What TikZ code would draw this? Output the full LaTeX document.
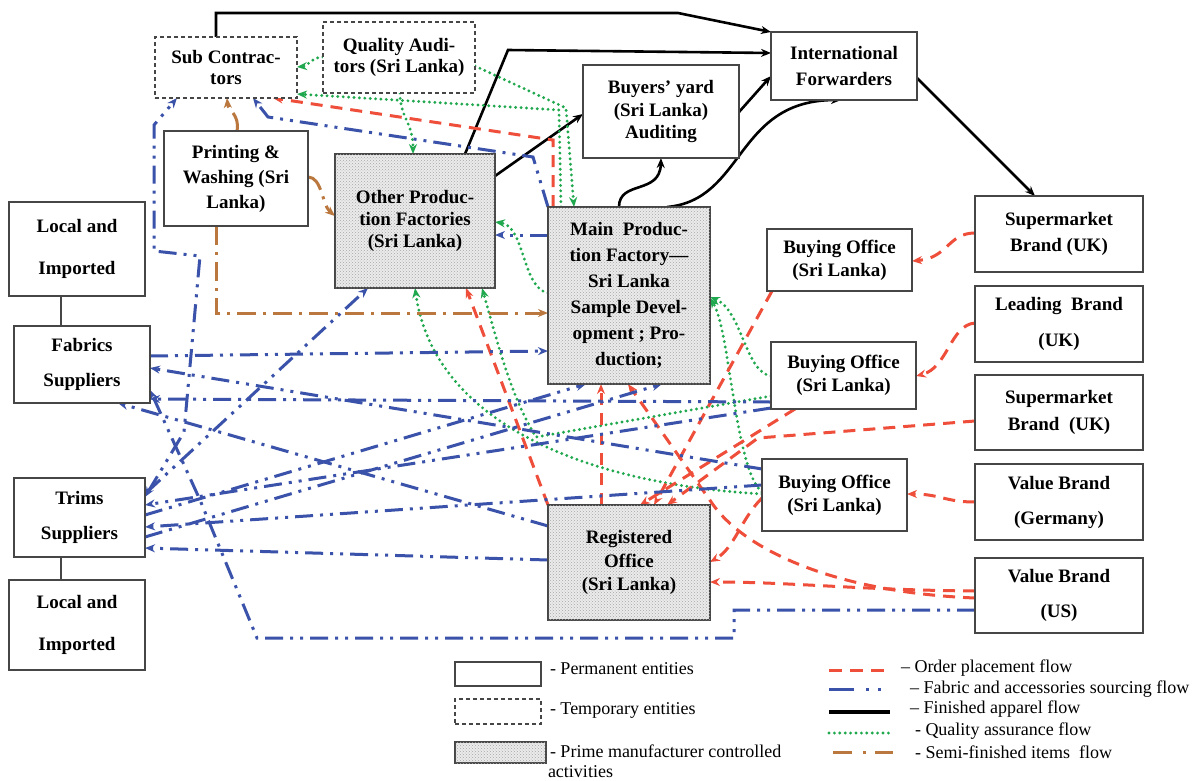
\documentclass[tikz,border=0pt]{standalone}
\usepackage{fontspec}
\setmainfont{Liberation Serif}
\usetikzlibrary{arrows.meta,patterns,calc}
\pgfdeclarelayer{bg}
\pgfsetlayers{bg,main}

\definecolor{ordred}{RGB}{238,78,58}
\definecolor{srcblue}{RGB}{58,82,170}
\definecolor{qagreen}{RGB}{32,168,78}
\definecolor{semibrown}{RGB}{186,120,62}
\definecolor{boxline}{RGB}{70,70,70}

\newcommand\nodetxt[1]{\bfseries\fontsize{19}{#1}\selectfont}
\newcommand\legtxt{\fontsize{18}{21}\selectfont}

\begin{document}
\begin{tikzpicture}[x=1pt,y=-1pt,
  every node/.style={inner sep=0pt, outer sep=0pt},
  entity/.style={draw=boxline, line width=1.5pt, align=center},
  permbox/.style={entity, fill=white},
  tempbox/.style={entity, dash pattern=on 4pt off 3pt, fill=white},
  primebox/.style={entity, fill=gray!16, postaction={pattern=crosshatch dots, pattern color=gray!70}},
  flowtip/.style={-{Stealth[length=10pt,width=8pt]}},
  bothtips/.style={{Stealth[length=10pt,width=8pt]}-{Stealth[length=10pt,width=8pt]}},
  redflow/.style={draw=ordred, line width=3pt, dash pattern=on 12pt off 8pt},
  blueflow/.style={draw=srcblue, line width=3pt, dash pattern=on 18pt off 7pt on 3pt off 7pt on 3pt off 7pt},
  blackflow/.style={draw=black, line width=2.6pt},
  greenflow/.style={draw=qagreen, line width=3.2pt, line cap=round, dash pattern=on 0pt off 5.4pt},
  brownflow/.style={draw=semibrown, line width=3pt, dash pattern=on 19pt off 7pt on 3pt off 7pt},
]
\useasboundingbox (0,0) rectangle (1200,780);

% ---------- entities ----------
\node[tempbox, minimum width=142pt, minimum height=61pt, font={\nodetxt{21}}] (subc) at (226,67.5) {Sub Contrac-\\tors};
\node[tempbox, minimum width=152pt, minimum height=71pt, font={\nodetxt{21}}] (qa) at (399,57.5) {Quality Audi-\\tors (Sri Lanka)};
\node[permbox, minimum width=146pt, minimum height=68pt, font={\nodetxt{26}}] (intl) at (844,66) {International\\Forwarders};
\node[permbox, minimum width=156pt, minimum height=93pt, font={\nodetxt{23}}] (yard) at (661,111.5) {Buyers' yard\\(Sri Lanka)\\Auditing};
\node[permbox, minimum width=144pt, minimum height=95pt, font={\nodetxt{25}}] (print) at (236,178.5) {Printing \&\\Washing (Sri\\Lanka)};
\node[primebox, minimum width=160pt, minimum height=134pt, font={\nodetxt{22}}] (other) at (415,221) {Other Produc-\\tion Factories\\(Sri Lanka)};
\node[primebox, minimum width=162pt, minimum height=177pt, font={\nodetxt{26}}] (main) at (629,295.5) {Main~~Produc-\\tion Factory—\\Sri Lanka\\Sample Devel-\\opment ; Pro-\\duction;};
\node[permbox, minimum width=136pt, minimum height=94pt, font={\nodetxt{42}}] (loc1) at (77,249) {Local and\\Imported};
\node[permbox, minimum width=136pt, minimum height=77pt, font={\nodetxt{35}}] (fab) at (82,364.5) {Fabrics\\Suppliers};
\node[permbox, minimum width=131pt, minimum height=79pt, font={\nodetxt{35}}] (trims) at (79.5,517.5) {Trims\\Suppliers};
\node[permbox, minimum width=136pt, minimum height=90pt, font={\nodetxt{42}}] (loc2) at (77,625) {Local and\\Imported};
\node[primebox, minimum width=162pt, minimum height=115pt, font={\nodetxt{23.5}}] (reg) at (629,562.5) {Registered\\Office\\(Sri Lanka)};
\node[permbox, minimum width=145pt, minimum height=62pt, font={\nodetxt{23}}] (bo1) at (839.5,260) {Buying Office\\(Sri Lanka)};
\node[permbox, minimum width=145pt, minimum height=67pt, font={\nodetxt{23}}] (bo2) at (843.5,375.5) {Buying Office\\(Sri Lanka)};
\node[permbox, minimum width=145pt, minimum height=72pt, font={\nodetxt{23}}] (bo3) at (834.5,495) {Buying Office\\(Sri Lanka)};
\node[permbox, minimum width=168pt, minimum height=76pt, font={\nodetxt{26}}] (sm1) at (1059,234) {Supermarket\\Brand (UK)};
\node[permbox, minimum width=168pt, minimum height=76pt, font={\nodetxt{36}}] (lead) at (1059,324) {Leading~~Brand\\(UK)};
\node[permbox, minimum width=168pt, minimum height=75pt, font={\nodetxt{27}}] (sm2) at (1059,412.5) {Supermarket\\Brand~~(UK)};
\node[permbox, minimum width=168pt, minimum height=76pt, font={\nodetxt{35}}] (vbg) at (1059,502) {Value Brand\\(Germany)};
\node[permbox, minimum width=168pt, minimum height=75pt, font={\nodetxt{35}}] (vbus) at (1059,595.5) {Value Brand\\(US)};

% ---------- legend ----------
\node[permbox, line width=1.2pt, minimum width=86pt, minimum height=24pt] (lgperm) at (498,674) {};
\node[tempbox, line width=1.2pt, minimum width=86pt, minimum height=25pt] (lgtemp) at (498,711.5) {};
\node[primebox, line width=1.2pt, minimum width=91pt, minimum height=21pt] (lgprime) at (500.5,752.5) {};
\node[anchor=west, font=\legtxt] (lgpermtxt) at (550,669) {- Permanent entities};
\node[anchor=west, font=\legtxt] (lgtemptxt) at (550,710) {- Temporary entities};
\node[anchor=west, font=\legtxt] (lgprimetxt) at (550,751) {- Prime manufacturer controlled};
\node[anchor=west, font=\legtxt] (lgprimetxtb) at (548,772) {activities};

\coordinate (lr1) at (829,670); \coordinate (lr2) at (886,670);
\coordinate (lb1) at (829,689); \coordinate (lb2) at (883,689);
\coordinate (lk1) at (829,712); \coordinate (lk2) at (890,712);
\coordinate (lg1) at (829,733); \coordinate (lg2) at (890,733);
\coordinate (ln1) at (833,752); \coordinate (ln2) at (894,752);
\draw[redflow, dash pattern=on 13pt off 8pt] (lr1) -- (lr2);
\draw[blueflow, dash pattern=on 25pt off 12pt on 3pt off 9pt on 3pt off 50pt] (lb1) -- (lb2);
\draw[blackflow, line width=3.4pt] (lk1) -- (lk2);
\draw[greenflow] (lg1) -- (lg2);
\draw[brownflow, dash pattern=on 19pt off 11pt on 3pt off 9pt on 18pt off 40pt] (ln1) -- (ln2);
\node[anchor=west, font=\legtxt] (lrtxt) at (901,668) {– Order placement flow};
\node[anchor=west, font=\legtxt] (lbtxt) at (910,689) {– Fabric and accessories sourcing flow};
\node[anchor=west, font=\legtxt] (lktxt) at (910,709) {– Finished apparel flow};
\node[anchor=west, font=\legtxt] (lgtxt) at (915,731) {- Quality assurance flow};
\node[anchor=west, font=\legtxt] (lntxt) at (915,752) {- Semi-finished items~ flow};

% ---------- connectors (behind the boxes) ----------
\begin{pgfonlayer}{bg}
\fill[white] (0,0) rectangle (1200,780);

% supplier groups
\draw[boxline, line width=1.5pt] (loc1.south -| 61,0) -- (fab.north -| 61,0);
\draw[boxline, line width=1.5pt] (trims.south -| 61,0) -- (loc2.north -| 61,0);

% finished apparel flow
\draw[blackflow, flowtip] (subc.north -| 216,0) -- (216,13) -- (678,13) -- (intl.north west);
\draw[blackflow, flowtip] (other.north -| 465,0) -- (508,50) -- (intl.west |- 0,53);
\draw[blackflow, flowtip] (other.east |- 0,176) -- (yard.west |- 0,114);
\draw[blackflow, flowtip] (yard.east |- 0,112) -- (intl.west |- 0,76);
\draw[blackflow, flowtip] (main.north -| 619,0) .. controls (619,180) and (660,195) .. (yard.south -| 661,0);
\draw[blackflow, flowtip] (main.north -| 667,0) .. controls (745,200) and (735,100) .. (intl.south -| 841,0);
\draw[blackflow, flowtip] (intl.east |- 0,78) -- (sm1.north -| 1035,0);

% quality assurance flow
\draw[greenflow, flowtip] (qa.west |- 0,57) .. controls (312,57) and (308,66) .. (subc.east |- 0,67);
\draw[greenflow, flowtip] (qa.south -| 400,0) .. controls (400,118) and (413,122) .. (other.north -| 413,0);
\draw[greenflow, flowtip] (qa.east |- 0,66) -- (566,108) -- (main.north -| 574,0);
\draw[greenflow, flowtip] (main.north -| 561,0) -- (559,110) -- ($(subc.south east)+(0,-4)$);
\draw[greenflow, flowtip] (main.west |- 0,293) .. controls (522,288) and (525,226) .. (other.east |- 0,222);
\draw[greenflow, flowtip] (bo2.west |- 0,376) .. controls (745,372) and (742,310) .. (main.east |- 0,297);
\draw[greenflow, flowtip] (bo3.west |- 0,492) .. controls (735,470) and (730,330) .. (main.east |- 0,298);
\draw[greenflow, flowtip] (bo3.west |- 0,494) .. controls (560,482) and (432,410) .. (other.south -| 415,0);
\draw[greenflow, flowtip] (bo2.west |- 0,396) -- (536,437) .. controls (510,395) and (497,340) .. (other.south -| 482,0);

% order placement flow
\draw[redflow, flowtip] (sm1.west |- 0,233) .. controls (948,233) and (948,258) .. (bo1.east |- 0,261);
\draw[redflow, flowtip] (lead.west |- 0,323) .. controls (950,325) and (948,368) .. (bo2.east |- 0,376);
\draw[redflow, flowtip] (vbg.west |- 0,502) .. controls (945,502) and (940,494) .. (bo3.east |- 0,494);
\draw[redflow, flowtip] (sm2.west |- 0,421) -- (758,438) -- (reg.north -| 667,0);
\draw[redflow, flowtip] ($(bo2.south west)+(24,0)$) -- (reg.north -| 640,0);
\draw[redflow, flowtip] ($(bo1.south west)+(5,0)$) -- (reg.north -| 654,0);
\draw[redflow, flowtip] (bo3.west |- 0,498) .. controls (740,520) and (735,548) .. (reg.east |- 0,562);
\draw[redflow, flowtip] (vbus.west |- 0,591) .. controls (860,590) and (790,582) .. (reg.east |- 0,582);
\draw[redflow, flowtip] (vbus.west |- 0,598) .. controls (830,592) and (745,548) .. (714,506) -- (main.south -| 628,0);
\draw[redflow, flowtip] (reg.north -| 601,0) -- (main.south -| 601,0);
\draw[redflow, flowtip] (reg.north west) -- (other.south -| 466,0);
\draw[redflow, flowtip] (main.north -| 553,0) -- (553,140) -- (subc.south -| 273,0);

% fabric and accessories sourcing flow
\draw[blueflow, flowtip] (fab.east |- 0,356) -- (main.west |- 0,351);
\draw[blueflow, flowtip] (bo2.west |- 0,402) -- (fab.east |- 0,399);
\draw[blueflow, flowtip] (bo3.west |- 0,469) -- (fab.east |- 0,368);
\draw[blueflow, flowtip] (reg.west |- 0,526) -- (fab.south -| 118,0);
\draw[blueflow, flowtip] ($(trims.north east)+(2,14)$) -- (other.south -| 368,0);
\draw[blueflow, bothtips] (trims.east |- 0,497) -- (184,432) -- (200,256) -- (154,251) -- (154,125) -- (subc.south -| 177,0);
\draw[blueflow, flowtip] (main.north west) -- (533,157) -- (268,117) -- (subc.south -| 253,0);
\draw[blueflow, flowtip] (main.west |- 0,235) -- (other.east |- 0,235);
\draw[blueflow, flowtip] (bo2.west |- 0,408) -- (trims.east |- 0,505);
\draw[blueflow, flowtip] (bo3.west |- 0,485) -- (trims.east |- 0,527);
\draw[blueflow, flowtip] (reg.west |- 0,560) -- (trims.east |- 0,548);
\draw[blueflow, flowtip] (vbus.west |- 0,610) -- (734,610) -- (734,638) -- (257,638) -- (200,500) -- (fab.east |- 0,390);
\draw[blueflow, flowtip] (trims.east |- 0,515) -- (main.south -| 586,0);
\draw[blueflow, flowtip] (trims.east |- 0,537) -- (main.south -| 662,0);

% semi-finished items flow
\draw[brownflow, flowtip] (print.north -| 237,0) .. controls (240,115) and (228,110) .. (subc.south -| 227,0);
\draw[brownflow, flowtip] (print.east |- 0,177) .. controls (322,177) and (322,205) .. (other.west |- 0,216);
\draw[brownflow, flowtip] (print.south -| 216,0) -- (216,313) -- (main.west |- 0,313);
\end{pgfonlayer}
\end{tikzpicture}
\end{document}
